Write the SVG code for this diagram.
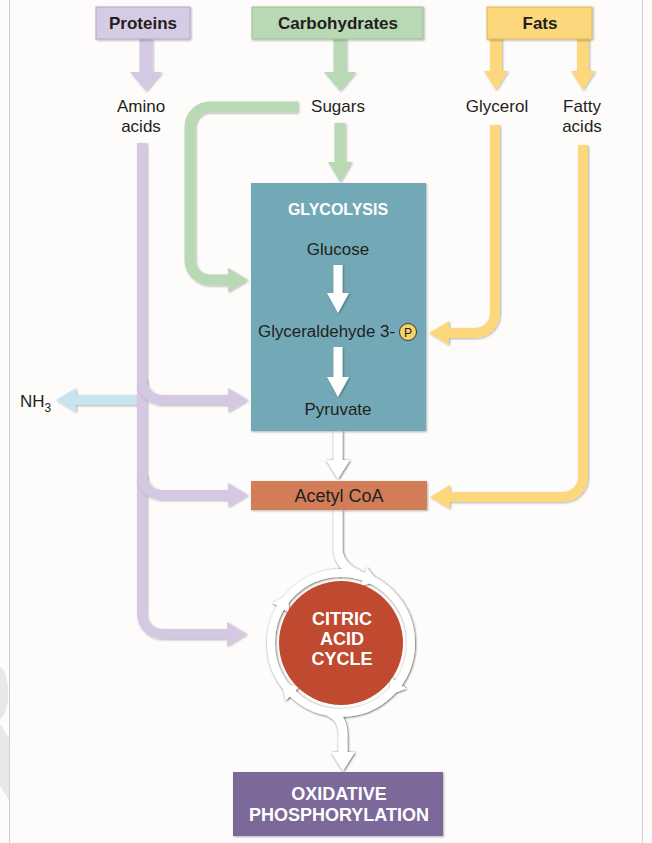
<svg xmlns="http://www.w3.org/2000/svg" width="652" height="843" viewBox="0 0 652 843">
<style>
  text { font-family: "Liberation Sans", Arial, sans-serif; fill: #231f20; }
  .lbl { font-size: 17px; text-anchor: middle; }
  .hdr { font-size: 17px; font-weight: bold; text-anchor: middle; }
  .wb { font-size: 17px; font-weight: bold; text-anchor: middle; fill: #ffffff; }
  .box { filter: url(#sh); }
  .p { fill: none; stroke: #d5c8e2; stroke-width: 10; filter: url(#sh); }
  .g { fill: none; stroke: #b8d9b3; stroke-width: 11; filter: url(#sh); }
  .y { fill: none; stroke: #fcd77b; stroke-width: 10; filter: url(#sh); }
  .b { fill: none; stroke: #c8e4f3; stroke-width: 10; filter: url(#sh); }
  .pb { fill: none; stroke: #d5c8e2; stroke-width: 13; filter: url(#sh); }
  .gb { fill: none; stroke: #b8d9b3; stroke-width: 13; filter: url(#sh); }
  .yb { fill: none; stroke: #fcd77b; stroke-width: 12; filter: url(#sh); }
  .wi { fill: none; stroke: #ffffff; stroke-width: 9; }
  .wa { fill: none; stroke: #ffffff; stroke-width: 9; }
</style>
<defs>
  <filter id="sh" filterUnits="userSpaceOnUse" x="0" y="0" width="652" height="843">
    <feDropShadow dx="1" dy="1" stdDeviation="1" flood-color="#000000" flood-opacity="0.3"/>
  </filter>
  <filter id="ol" filterUnits="userSpaceOnUse" x="0" y="0" width="652" height="843">
    <feDropShadow dx="0.6" dy="0.6" stdDeviation="0.8" flood-color="#000000" flood-opacity="0.75"/>
  </filter>
  <filter id="si" filterUnits="userSpaceOnUse" x="0" y="0" width="652" height="843">
    <feDropShadow dx="1" dy="1" stdDeviation="1" flood-color="#000000" flood-opacity="0.35"/>
  </filter>
  <marker id="hP" viewBox="0 -12 20 24" refX="1" refY="0" markerWidth="20" markerHeight="24" markerUnits="userSpaceOnUse" orient="auto"><path d="M0,-12 L20,0 L0,12 Z" fill="#d5c8e2"/></marker>
  <marker id="hG" viewBox="0 -12 20 24" refX="1" refY="0" markerWidth="20" markerHeight="24" markerUnits="userSpaceOnUse" orient="auto"><path d="M0,-12 L20,0 L0,12 Z" fill="#b8d9b3"/></marker>
  <marker id="hY" viewBox="0 -12 20 24" refX="1" refY="0" markerWidth="20" markerHeight="24" markerUnits="userSpaceOnUse" orient="auto"><path d="M0,-12 L20,0 L0,12 Z" fill="#fcd77b"/></marker>
  <marker id="hB" viewBox="0 -12 20 24" refX="1" refY="0" markerWidth="20" markerHeight="24" markerUnits="userSpaceOnUse" orient="auto"><path d="M0,-12 L20,0 L0,12 Z" fill="#c8e4f3"/></marker>
  <marker id="bP" viewBox="0 -16 19 32" refX="1" refY="0" markerWidth="19" markerHeight="32" markerUnits="userSpaceOnUse" orient="auto"><path d="M0,-16 L19,0 L0,16 Z" fill="#d5c8e2"/></marker>
  <marker id="bG" viewBox="0 -16 19 32" refX="1" refY="0" markerWidth="19" markerHeight="32" markerUnits="userSpaceOnUse" orient="auto"><path d="M0,-16 L19,0 L0,16 Z" fill="#b8d9b3"/></marker>
  <marker id="bY" viewBox="0 -12 19 24" refX="1" refY="0" markerWidth="19" markerHeight="24" markerUnits="userSpaceOnUse" orient="auto"><path d="M0,-12 L19,0 L0,12 Z" fill="#fcd77b"/></marker>
  <marker id="hW" viewBox="0 -12 20 24" refX="1" refY="0" markerWidth="20" markerHeight="24" markerUnits="userSpaceOnUse" orient="auto"><path d="M0,-12 L19,0 L0,12 Z" fill="#ffffff"/></marker>
  <marker id="hR" viewBox="0 -10 15 20" refX="1" refY="0" markerWidth="15" markerHeight="20" markerUnits="userSpaceOnUse" orient="auto"><path d="M0,-10 L15,0 L0,10 Z" fill="#ffffff"/></marker>
  <marker id="hI" viewBox="0 -11 20 22" refX="1" refY="0" markerWidth="20" markerHeight="22" markerUnits="userSpaceOnUse" orient="auto"><path d="M0,-11 L20,0 L0,11 Z" fill="#ffffff"/></marker>
</defs>

<rect x="0" y="0" width="652" height="843" fill="#fdfcfa"/>
<line x1="9.5" y1="0" x2="9.5" y2="843" stroke="#cfcfcf" stroke-width="1"/>
<line x1="642.5" y1="0" x2="642.5" y2="843" stroke="#cfcfcf" stroke-width="1"/>
<path d="M0,667 C11,672 11,714 0,719 Z M0,724 L9,738 L9,800 L0,786 Z" fill="#e8e8e8"/>

<g id="connectors">
  <!-- top arrows -->
  <path class="pb" d="M146,39 V73" marker-end="url(#bP)"/>
  <path class="gb" d="M340,39 V73" marker-end="url(#bG)"/>
  <path class="yb" d="M496,38 V72" marker-end="url(#bY)"/>
  <path class="yb" d="M583,38 V72" marker-end="url(#bY)"/>
  <!-- sugars -->
  <path class="g" d="M298,107 H210 A20,20 0 0 0 190,127 V260 A20,20 0 0 0 210,280 H229" marker-end="url(#hG)"/>
  <path class="g" d="M340,123 V163" marker-end="url(#hG)"/>
  <!-- NH3 -->
  <path class="b" d="M138,400 H75" marker-end="url(#hB)"/>
  <!-- amino acids -->
  <path class="p" d="M142,143 V614 A20,20 0 0 0 162,634 H228" marker-end="url(#hP)"/>
  <path class="p" d="M142,380 A20,20 0 0 0 162,400 H229" marker-end="url(#hP)"/>
  <path class="p" d="M142,475 A20,20 0 0 0 162,495 H229" marker-end="url(#hP)"/>
  <!-- fats -->
  <path class="y" d="M495,125 V313 A20,20 0 0 1 475,333 H448" marker-end="url(#hY)"/>
  <path class="y" d="M583,145 V477 A20,20 0 0 1 563,497 H449" marker-end="url(#hY)"/>
  <!-- white flow -->
  <g filter="url(#ol)">
    <path class="wa" d="M338,431 V461" marker-end="url(#hW)"/>
  </g>
  <g filter="url(#ol)">
    <path class="wi" d="M338,510 V548 Q338,566 359,575"/>
    <circle cx="341" cy="643" r="70" fill="none" stroke="#ffffff" stroke-width="8"/>
    <path class="wi" d="M329,712 Q343,717 343,735 V753" marker-end="url(#hW)"/>
    <path d="M353.5,574.5 A70,70 0 0 1 364.5,577.0" fill="none" stroke="none" marker-end="url(#hR)"/>
    <path d="M404.5,672.5 A70,70 0 0 1 398.0,683.5" fill="none" stroke="none" marker-end="url(#hR)"/>
    <path d="M301.5,700.5 A70,70 0 0 1 292.0,693.0" fill="none" stroke="none" marker-end="url(#hR)"/>
    <path d="M276.0,617.0 A70,70 0 0 1 281.0,607.0" fill="none" stroke="none" marker-end="url(#hR)"/>
  </g>
</g>

<g id="proteins">
  <rect class="box" x="96" y="7" width="94" height="32" fill="#d6cbe5" stroke="#b3a8c2" stroke-width="1"/>
  <text class="hdr" x="143" y="29">Proteins</text>
</g>
<g id="carbohydrates">
  <rect class="box" x="252" y="7" width="171" height="32" fill="#b8d9b3" stroke="#9bbd96" stroke-width="1"/>
  <text class="hdr" x="338" y="29">Carbohydrates</text>
</g>
<g id="fats">
  <rect class="box" x="487" y="7" width="105" height="32" fill="#fcd77b" stroke="#dcb95c" stroke-width="1"/>
  <text class="hdr" x="540" y="29">Fats</text>
</g>
<g id="amino-acids">
  <text class="lbl" x="141" y="112">Amino</text>
  <text class="lbl" x="141" y="132">acids</text>
</g>
<g id="sugars">
  <text class="lbl" x="338" y="112">Sugars</text>
</g>
<g id="glycerol">
  <text class="lbl" x="497" y="112">Glycerol</text>
</g>
<g id="fatty-acids">
  <text class="lbl" x="582" y="112">Fatty</text>
  <text class="lbl" x="582" y="132">acids</text>
</g>
<g id="nh3">
  <text x="20" y="407" style="font-size:17px">NH<tspan dy="5" style="font-size:12px">3</tspan></text>
</g>
<g id="glycolysis">
  <rect class="box" x="251" y="183" width="175" height="248" fill="#73a9b7"/>
  <text class="wb" x="338" y="215" style="font-size:16px">GLYCOLYSIS</text>
  <text class="lbl" x="338" y="255">Glucose</text>
  <path class="wa" d="M338,265 V294" marker-end="url(#hI)" filter="url(#si)"/>
  <text x="258" y="337" style="font-size:16px" textLength="137" lengthAdjust="spacingAndGlyphs">Glyceraldehyde 3-</text>
  <circle cx="408" cy="332" r="8.5" fill="#f5d36a" stroke="#3a3a2a" stroke-width="1"/>
  <text x="408" y="336.5" style="font-size:12px; text-anchor:middle">P</text>
  <path class="wa" d="M338,347 V378" marker-end="url(#hI)" filter="url(#si)"/>
  <text class="lbl" x="338" y="415">Pyruvate</text>
</g>
<g id="acetyl-coa">
  <rect class="box" x="251" y="481" width="176" height="29" fill="#d27b59"/>
  <text class="lbl" x="339" y="502" style="font-size:18px">Acetyl CoA</text>
</g>
<g id="citric-acid-cycle">
  <circle cx="341" cy="643" r="62" fill="#c04a2f"/>
  <text class="wb" x="342" y="625" style="font-size:18px">CITRIC</text>
  <text class="wb" x="342" y="645" style="font-size:18px">ACID</text>
  <text class="wb" x="342" y="665" style="font-size:18px">CYCLE</text>
</g>
<g id="oxidative-phosphorylation">
  <rect class="box" x="233" y="772" width="210" height="64" fill="#7c6799"/>
  <text class="wb" x="339" y="800" style="font-size:18px">OXIDATIVE</text>
  <text class="wb" x="339" y="821" style="font-size:18px">PHOSPHORYLATION</text>
</g>
</svg>
